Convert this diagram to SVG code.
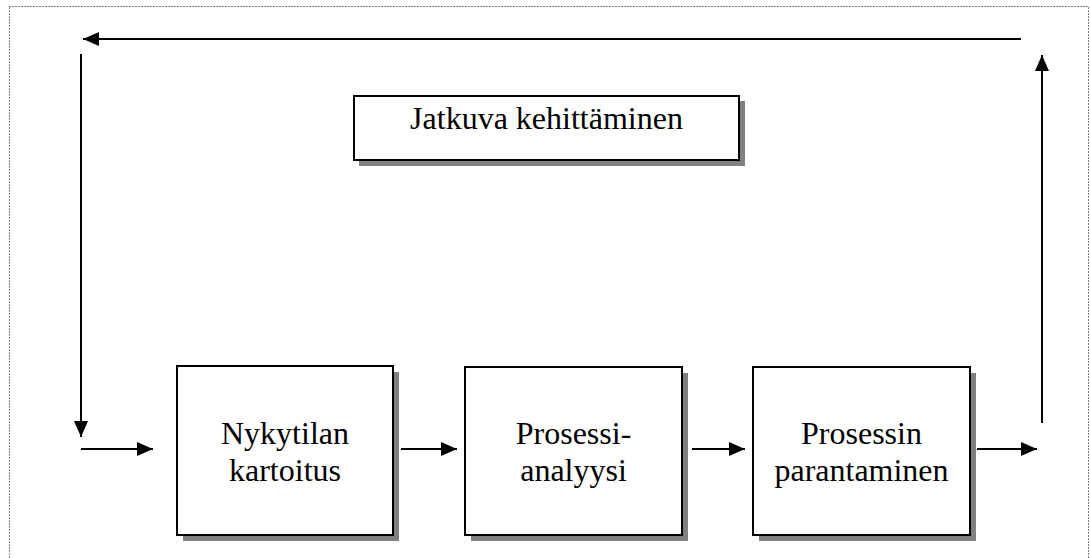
<svg xmlns="http://www.w3.org/2000/svg" width="1090" height="558" viewBox="0 0 1090 558">
  <style>
    .frame { fill: none; stroke: #000; stroke-width: 1; stroke-dasharray: 1 2; }
    .shadow { fill: #808080; stroke: none; }
    .box { fill: #fff; stroke: #000; stroke-width: 2; }
    .label { font-family: "Liberation Serif", "Times New Roman", serif; font-size: 32px; fill: #000; text-anchor: middle; }
    .conn { fill: none; stroke: #000; stroke-width: 2; }
  </style>
  <defs>
    <marker id="arrow" viewBox="0 0 16 14" refX="16" refY="7" markerWidth="16" markerHeight="14" markerUnits="userSpaceOnUse" orient="auto">
      <path d="M0,0 L16,7 L0,14 Z" fill="#000"/>
    </marker>
  </defs>

  <rect width="1090" height="558" fill="#fff"/>
  <!-- dotted page frame -->
  <rect class="frame" x="9.5" y="6.5" width="1079" height="560"/>

  <g id="connectors">
    <!-- feedback loop: right side up, across the top, down the left -->
    <line class="conn" x1="1042" y1="423" x2="1042" y2="55" marker-end="url(#arrow)"/>
    <line class="conn" x1="1021" y1="39" x2="83" y2="39" marker-end="url(#arrow)"/>
    <line class="conn" x1="81" y1="54" x2="81" y2="437" marker-end="url(#arrow)"/>
    <!-- process chain -->
    <line class="conn" x1="81" y1="449" x2="153" y2="449" marker-end="url(#arrow)"/>
    <line class="conn" x1="401" y1="449" x2="457" y2="449" marker-end="url(#arrow)"/>
    <line class="conn" x1="692" y1="449" x2="745" y2="449" marker-end="url(#arrow)"/>
    <line class="conn" x1="977" y1="449" x2="1037" y2="449" marker-end="url(#arrow)"/>
  </g>

  <g id="jatkuva-kehittaminen">
    <rect class="shadow" x="359" y="101" width="386" height="65"/>
    <rect class="box" x="354" y="96" width="385" height="64"/>
    <text class="label" x="546.5" y="129">Jatkuva kehittäminen</text>
  </g>

  <g id="nykytilan-kartoitus">
    <rect class="shadow" x="183" y="372" width="216" height="169"/>
    <rect class="box" x="177" y="366" width="216" height="169"/>
    <text class="label" x="285" y="444">Nykytilan</text>
    <text class="label" x="285" y="481">kartoitus</text>
  </g>

  <g id="prosessianalyysi">
    <rect class="shadow" x="471" y="373" width="217" height="168"/>
    <rect class="box" x="465" y="367" width="217" height="168"/>
    <text class="label" x="573.5" y="444">Prosessi-</text>
    <text class="label" x="573.5" y="481">analyysi</text>
  </g>

  <g id="prosessin-parantaminen">
    <rect class="shadow" x="759" y="373" width="217" height="168"/>
    <rect class="box" x="753" y="367" width="217" height="168"/>
    <text class="label" x="861.5" y="444">Prosessin</text>
    <text class="label" x="861.5" y="481">parantaminen</text>
  </g>
</svg>
